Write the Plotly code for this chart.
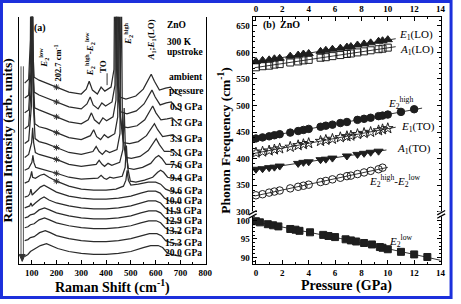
import numpy as np
import plotly.graph_objects as go

W, H = 461, 304

def P(x, y):
    return x / W, 1 - y / H

# ---------------- Panel (a): Raman spectra (offset, arb. units) ----------------
labels_a = ["ambient", "0.9 GPa", "1.7 GPa", "3.3 GPa", "5.1 GPa", "7.6 GPa", "9.4 GPa",
            "9.6 GPa", "10.0 GPa", "11.9 GPa", "12.9 GPa", "13.2 GPa", "15.3 GPa", "20.0 GPa"]

w_amb = [72, 88, 95, 99, 103, 110, 130, 160, 200, 250, 300, 320, 332, 345, 365, 380, 395, 420, 432, 437, 442, 455, 480, 520, 550, 570, 582, 595, 615, 640, 660, 680, 705]
i_amb = [183, 187, 227, 371, 227, 189, 186, 183, 179, 174, 172, 177, 185, 176, 172, 179, 175, 179, 197, 371, 197, 169, 167, 170, 177, 187, 192, 185, 176, 178, 179, 173, 170]

w_p09 = [72, 88, 96, 100, 104, 110, 130, 160, 200, 250, 300, 323, 336, 348, 368, 383, 398, 424, 436, 441, 446, 459, 484, 522, 553, 573, 585, 598, 618, 643, 663, 683, 705]
i_p09 = [168, 171, 211, 356, 211, 174, 171, 168, 164, 159, 157, 162, 169, 161, 157, 163, 160, 164, 181, 356, 181, 154, 152, 155, 162, 171, 176, 169, 161, 163, 164, 158, 155]

w_p17 = [72, 88, 97, 101, 105, 112, 130, 160, 200, 250, 300, 328, 341, 353, 372, 387, 402, 428, 440, 445, 450, 463, 488, 525, 556, 576, 588, 601, 621, 646, 666, 686, 705]
i_p17 = [153, 156, 195, 341, 195, 158, 156, 153, 149, 144, 142, 146, 153, 146, 142, 148, 145, 149, 166, 341, 166, 139, 138, 140, 146, 155, 160, 153, 146, 147, 148, 143, 140]

w_p33 = [72, 88, 98, 102, 106, 113, 130, 160, 200, 250, 300, 337, 350, 362, 378, 393, 408, 435, 447, 452, 457, 470, 495, 530, 563, 583, 595, 608, 628, 650, 670, 688, 705]
i_p33 = [137, 140, 177, 325, 177, 142, 139, 137, 133, 128, 126, 130, 136, 129, 126, 131, 128, 132, 149, 325, 149, 123, 122, 124, 130, 138, 142, 136, 129, 130, 131, 127, 124]

w_p51 = [72, 88, 99, 103, 107, 114, 130, 160, 200, 250, 300, 347, 360, 372, 385, 399, 414, 444, 456, 461, 466, 479, 502, 537, 570, 590, 602, 615, 635, 655, 672, 690, 705]
i_p51 = [122, 125, 160, 310, 160, 127, 124, 122, 118, 113, 111, 114, 119, 114, 111, 115, 113, 116, 132, 310, 132, 108, 107, 109, 115, 123, 127, 121, 114, 114, 115, 111, 109]

w_p76 = [72, 88, 100, 104, 108, 115, 130, 160, 200, 250, 300, 360, 372, 384, 394, 408, 423, 455, 468, 473, 478, 490, 512, 547, 580, 600, 612, 625, 642, 660, 675, 690, 705]
i_p76 = [108, 111, 123, 138, 123, 113, 111, 109, 106, 101, 99, 101, 105, 101, 99, 102, 100, 103, 116, 158, 116, 97, 96, 98, 102, 108, 110, 107, 101, 101, 101, 99, 97]

w_p94 = [72, 88, 101, 105, 109, 116, 130, 160, 200, 250, 300, 367, 380, 392, 402, 415, 430, 465, 477, 482, 487, 498, 520, 555, 588, 608, 620, 632, 648, 663, 677, 690, 705]
i_p94 = [95, 97, 103, 110, 103, 98, 97, 95, 92, 88, 86, 87, 90, 87, 86, 88, 87, 89, 98, 120, 98, 84, 83, 85, 88, 93, 95, 93, 88, 87, 87, 86, 84]

w_p96 = [72, 88, 96, 100, 104, 115, 135, 150, 170, 200, 250, 300, 350, 400, 440, 470, 480, 485, 490, 500, 530, 570, 600, 620, 640, 660, 680, 705]
i_p96 = [82, 84, 89, 94, 88, 87, 90, 91, 88, 84, 79, 76, 75, 75, 76, 79, 85, 95, 85, 80, 81, 83, 83, 81, 76, 74, 73, 72]

w_p100 = [72, 85, 92, 97, 102, 115, 135, 150, 170, 200, 250, 300, 350, 400, 450, 500, 540, 570, 600, 618, 635, 655, 680, 705]
i_p100 = [68, 69, 71, 76, 70, 73, 78, 80, 77, 73, 69, 67, 66, 66, 67, 69, 72, 74, 74, 72, 67, 64, 63, 62]

w_p119 = [72, 85, 92, 97, 102, 115, 135, 150, 170, 200, 250, 300, 350, 400, 450, 500, 540, 570, 600, 620, 638, 658, 680, 705]
i_p119 = [57, 58, 59, 62, 59, 62, 66, 68, 65, 62, 59, 57, 56, 56, 57, 59, 62, 64, 64, 62, 57, 54, 53, 52]

w_p129 = [72, 85, 95, 110, 130, 152, 172, 200, 250, 300, 350, 400, 450, 500, 540, 572, 602, 620, 638, 658, 680, 705]
i_p129 = [47, 48, 50, 51, 55, 57, 55, 52, 49, 47, 46, 46, 47, 49, 52, 54, 54, 52, 47, 44, 43, 42]

w_p132 = [72, 85, 95, 110, 130, 152, 172, 200, 250, 300, 350, 400, 450, 500, 540, 572, 602, 620, 638, 658, 680, 705]
i_p132 = [37, 38, 40, 41, 45, 47, 45, 42, 39, 37, 36, 36, 37, 39, 42, 44, 44, 42, 37, 34, 33, 32]

w_p153 = [72, 85, 95, 110, 132, 155, 175, 200, 250, 300, 350, 400, 450, 500, 545, 575, 605, 623, 640, 660, 680, 705]
i_p153 = [24, 25, 27, 28, 32, 34, 32, 29, 26, 24, 23, 23, 24, 26, 29, 31, 31, 29, 24, 22, 21, 20]

w_p200 = [72, 85, 95, 110, 135, 160, 180, 205, 250, 300, 350, 400, 450, 500, 550, 580, 610, 628, 645, 662, 680, 705]
i_p200 = [8, 10, 13, 15, 19, 21, 19, 16, 13, 11, 10, 10, 11, 13, 17, 19, 19, 17, 12, 10, 9, 8]

spectra = [(w_amb, i_amb), (w_p09, i_p09), (w_p17, i_p17), (w_p33, i_p33), (w_p51, i_p51),
           (w_p76, i_p76), (w_p94, i_p94), (w_p96, i_p96), (w_p100, i_p100), (w_p119, i_p119),
           (w_p129, i_p129), (w_p132, i_p132), (w_p153, i_p153), (w_p200, i_p200)]
star_shift = 200          # the 202.7 cm-1 feature marked with *
n_star = 8                # spectra carrying the * mark

# ---------------- Panel (b): phonon frequencies vs pressure ----------------
p_lo = [0, 0.5, 1.0, 1.4, 1.8, 2.6, 3.2, 3.6, 4.0, 4.9, 5.3, 5.8, 6.4, 6.9, 7.2, 7.7, 8.2, 8.7, 9.3, 9.6, 10.0]
e1_lo = [583, 585, 586, 588, 589, 593, 595, 597, 598, 602, 604, 606, 608, 610, 611, 614, 616, 618, 621, 622, 624]
a1_lo = [572, 574, 575, 577, 578, 581, 583, 585, 586, 590, 591, 593, 595, 597, 598, 600, 602, 604, 606, 607, 609]

p_e2h = [0, 0.5, 1.0, 1.4, 1.8, 2.6, 3.2, 3.6, 4.0, 4.9, 5.3, 5.8, 6.4, 6.9, 7.7, 8.2, 8.7, 9.3, 9.6, 10.0, 11.0, 12.0]
e2_high = [438, 440, 442, 444, 446, 449, 452, 454, 456, 460, 462, 464, 467, 469, 473, 475, 477, 480, 481, 483, 488, 493]

p_e1to = [0, 0.5, 1.0, 1.4, 1.8, 2.6, 3.2, 3.6, 4.0, 4.9, 5.3, 5.8, 6.4, 6.9, 7.2, 7.7, 8.2, 8.7, 9.3, 9.6, 10.0]
e1_to = [411, 413, 415, 417, 419, 422, 425, 427, 429, 433, 435, 437, 440, 442, 443, 446, 448, 450, 453, 455, 457]

p_a1to = [0, 0.5, 1.0, 1.4, 1.8, 3.2, 3.6, 4.0, 4.9, 5.3, 5.8, 6.9, 7.7, 8.2, 8.7, 9.3]
a1_to = [380, 381, 383, 384, 386, 391, 393, 394, 398, 399, 401, 405, 408, 410, 412, 414]

p_diff = [0, 0.5, 1.0, 1.4, 1.8, 2.6, 3.2, 3.6, 4.0, 4.9, 5.3, 5.8, 6.4, 6.9, 7.2, 7.7, 8.2, 8.7, 9.3, 9.6]
e2_diff = [331, 333, 336, 338, 340, 344, 347, 349, 351, 356, 358, 361, 364, 367, 368, 371, 374, 377, 380, 383]

p_e2l = [0, 0.3, 0.9, 1.3, 1.7, 2.6, 3.0, 3.3, 4.1, 5.1, 5.5, 6.0, 6.8, 7.2, 7.6, 8.2, 8.8, 9.4, 9.6, 10.0, 11.0, 12.0, 13.0]
e2_low = [99.8, 99.5, 99.0, 98.7, 98.4, 97.7, 97.5, 97.2, 96.8, 96.1, 95.8, 95.5, 94.9, 94.6, 94.3, 93.9, 93.5, 92.8, 92.6, 92.2, 91.5, 90.8, 90.1]

tick_a = [100, 200, 300, 400, 500, 600, 700, 800]
tick_b = [0, 2, 4, 6, 8, 10, 12, 14]

# ---------------- figure ----------------
FONT = "Liberation Serif"
INK = "#1e1e1e"
fig = go.Figure()

for w, inten in spectra:
    fig.add_trace(go.Scatter(x=w, y=inten, mode="lines", line=dict(color="#2b2b2b", width=1.25),
                             xaxis="x", yaxis="y", hoverinfo="skip"))

sx, sy = [], []
for w, inten in spectra[:n_star]:
    sx.append(star_shift)
    sy.append(float(np.interp(star_shift, w, inten)))
fig.add_trace(go.Scatter(x=sx, y=sy, mode="markers", xaxis="x", yaxis="y",
                         marker=dict(symbol="asterisk-open", size=5, color="#333",
                                     line=dict(color="#333", width=1))))

series_b = [
    (p_lo, e1_lo, "triangle-up", 1, "y2", "x4", 0.6, 8),
    (p_lo, a1_lo, "square-open", 1, "y2", "x4", 0.6, 7),
    (p_e2h, e2_high, "circle", 1, "y2", "x4", 0.6, 7.5),
    (p_e1to, e1_to, "star-open", 1, "y2", "x4", 0.6, 8),
    (p_a1to, a1_to, "triangle-down", 1, "y2", "x4", 0.6, 8),
    (p_diff, e2_diff, "circle-open", 1, "y2", "x4", 0.4, 7.5),
    (p_e2l, e2_low, "square", 2, "y3", "x3", 1.0, 7),
]
for px_, fy, sym, deg, ya, xa, ext, ms in series_b:
    coef = np.polyfit(px_, fy, deg)
    xx = np.linspace(min(px_) - 0.1, max(px_) + ext, 40)
    fig.add_trace(go.Scatter(x=xx, y=np.polyval(coef, xx), mode="lines", xaxis=xa, yaxis=ya,
                             line=dict(color=INK, width=0.9), hoverinfo="skip"))
    fig.add_trace(go.Scatter(x=px_, y=fy, mode="markers", xaxis=xa, yaxis=ya,
                             marker=dict(symbol=sym, size=ms, color=INK, line=dict(color=INK, width=1))))

tf = dict(family=FONT, size=9, color="black", weight="bold")
base = dict(showgrid=False, zeroline=False, showline=True, linecolor="black", linewidth=1.2,
            ticks="inside", tickcolor="black", ticklen=4, tickwidth=1, tickfont=tf)

da = [19 / W, 209 / W]
db = [256 / W, 447 / W]
yall = [1 - 267 / H, 1 - 17 / H]
yup = [1 - 216 / H, 1 - 17 / H]
ylo = [1 - 267 / H, 1 - 216 / H]

fig.update_layout(
    width=W, height=H, margin=dict(l=0, r=0, t=0, b=0),
    paper_bgcolor="white", plot_bgcolor="rgba(0,0,0,0)", showlegend=False,
    font=dict(family=FONT, color="black"),
    xaxis=dict(domain=da, range=[48, 804], anchor="y", tickvals=tick_a,
               minor=dict(ticks="inside", ticklen=2.5, dtick=50, tick0=0, tickcolor="black"), **base),
    xaxis2=dict(overlaying="x", side="top", anchor="y", range=[48, 804], tickvals=tick_a,
                minor=dict(ticks="inside", ticklen=2.5, dtick=50, tick0=0, tickcolor="black"), **base),
    yaxis=dict(domain=yall, range=[0, 250], anchor="x", showline=True, mirror=True,
               linecolor="black", linewidth=1.2, showticklabels=False, ticks="",
               showgrid=False, zeroline=False),
    xaxis3=dict(domain=db, range=[-0.25, 14.05], anchor="y3", tickvals=tick_b,
                minor=dict(ticks="inside", ticklen=2.5, dtick=1, tick0=0, tickcolor="black"), **base),
    xaxis4=dict(domain=db, range=[-0.25, 14.05], anchor="y2", side="top", tickvals=tick_b,
                minor=dict(ticks="inside", ticklen=2.5, dtick=1, tick0=0, tickcolor="black"), **base),
    yaxis2=dict(domain=yup, range=[296, 667], anchor="x4", tickvals=[300, 350, 400, 450, 500, 550, 600, 650],
                mirror="ticks", minor=dict(ticks="inside", ticklen=2.5, dtick=10, tick0=0, tickcolor="black"), **base),
    yaxis3=dict(domain=ylo, range=[88.1, 101.8], anchor="x3", tickvals=[90, 95, 100],
                mirror="ticks", minor=dict(ticks="inside", ticklen=2.5, dtick=1, tick0=0, tickcolor="black"), **base),
)

anns = []
def ann(x, y, text, size=9.5, bold=True, angle=0, xanchor="center"):
    ax_, ay_ = P(x, y)
    anns.append(dict(x=ax_, y=ay_, xref="paper", yref="paper", text=text, showarrow=False,
                     textangle=angle, xanchor=xanchor, yanchor="middle",
                     font=dict(family=FONT, size=size, color="black",
                               weight="bold" if bold else "normal")))

# axis titles
ann(8, 142, "Raman Intensity (arb. units)", size=13.5, angle=-90)
ann(114, 289, "Raman Shift (cm<sup>-1</sup>)", size=14)
ann(228, 142, "Phonon Frequency (cm<sup>-1</sup>)", size=13.5, angle=-90)
ann(351, 289, "Pressure (GPa)", size=14)

# panel a texts
ann(41, 28, "(a)", size=10)
ann(44, 58, "<i>E</i><sub>2</sub><sup>low</sup>", size=9, angle=-90)
ann(59, 64, "202.7 cm<sup>-1</sup>", size=8.5, angle=-90)
ann(91, 55, "<i>E</i><sub>2</sub><sup>high</sup>-<i>E</i><sub>2</sub><sup>low</sup>", size=9, angle=-90)
ann(105, 67, "TO", size=9, angle=-90)
ann(130, 34, "<i>E</i><sub>2</sub><sup>high</sup>", size=9, angle=-90)
ann(154, 40, "<i>A</i><sub>1</sub>;<i>E</i><sub>1</sub>(LO)", size=9, angle=-90)
ann(167, 25, "ZnO", size=9.5, xanchor="left")
ann(167, 42, "300 K", size=9.5, xanchor="left")
ann(167, 53, "upstroke", size=9.5, xanchor="left")
ann(188, 78, "ambient", size=9.5)
ann(188, 92, "pressure", size=9.5)
label_y = [None, 108, 124, 140, 155, 167, 180, 193, 203, 213, 223, 233, 245, 256]
for lab, ly in zip(labels_a[1:], label_y[1:]):
    ann(207, ly, lab, size=9.5, xanchor="right")

# panel b texts
ann(264, 25, "(b)", size=10, xanchor="left")
ann(282, 25, "ZnO", size=10, xanchor="left")
ann(402, 35, "<i>E</i><sub>1</sub>(LO)", size=11, bold=False, xanchor="left")
ann(403, 51, "<i>A</i><sub>1</sub>(LO)", size=11, bold=False, xanchor="left")
ann(391, 104, "<i>E</i><sub>2</sub><sup>high</sup>", size=11, bold=False, xanchor="left")
ann(404, 128, "<i>E</i><sub>1</sub>(TO)", size=11, bold=False, xanchor="left")
ann(400, 150, "<i>A</i><sub>1</sub>(TO)", size=11, bold=False, xanchor="left")
ann(372, 183, "<i>E</i><sub>2</sub><sup>high</sup>-<i>E</i><sub>2</sub><sup>low</sup>", size=11, bold=False, xanchor="left")
ann(392, 243, "<i>E</i><sub>2</sub><sup>low</sup>", size=11, bold=False, xanchor="left")
fig.update_layout(annotations=anns)

shapes = []
def line(x0, y0, x1, y1, color="black", width=1):
    a0, b0 = P(x0, y0)
    a1, b1 = P(x1, y1)
    shapes.append(dict(type="line", xref="paper", yref="paper", x0=a0, y0=b0, x1=a1, y1=b1,
                       line=dict(color=color, width=width)))
def rect(x0, y0, x1, y1, fill="white", color="white", width=0):
    a0, b0 = P(x0, y0)
    a1, b1 = P(x1, y1)
    shapes.append(dict(type="rect", xref="paper", yref="paper", x0=a0, y0=b0, x1=a1, y1=b1,
                       fillcolor=fill, line=dict(color=color, width=width)))

# hollow pressure arrow in panel a
line(21.3, 67, 21.3, 258, color="#555", width=1)
line(23.7, 67, 23.7, 258, color="#555", width=1)
x0, y0 = P(19.5, 257)
x1, y1 = P(25.5, 257)
x2, y2 = P(22.5, 264)
shapes.append(dict(type="path", xref="paper", yref="paper",
                   path=f"M {x0} {y0} L {x1} {y1} L {x2} {y2} Z", fillcolor="#333", line=dict(color="#333", width=1)))
# TO marker
line(108.5, 74, 108.5, 86, color="#333", width=1)

# axis breaks in panel b
rect(253, 213.5, 259, 218.5)
rect(444, 213.5, 450, 218.5)
line(252, 217, 260, 212.5, width=1.2)
line(252, 220.5, 260, 216, width=1.2)
line(443, 217, 451, 212.5, width=1.2)
line(443, 220.5, 451, 216, width=1.2)

# blue frame
rect(1.5, 1.5, 457, 300.5, fill="rgba(0,0,0,0)", color="#1c30dc", width=3)
fig.update_layout(shapes=shapes)

fig.write_html("out.html")
